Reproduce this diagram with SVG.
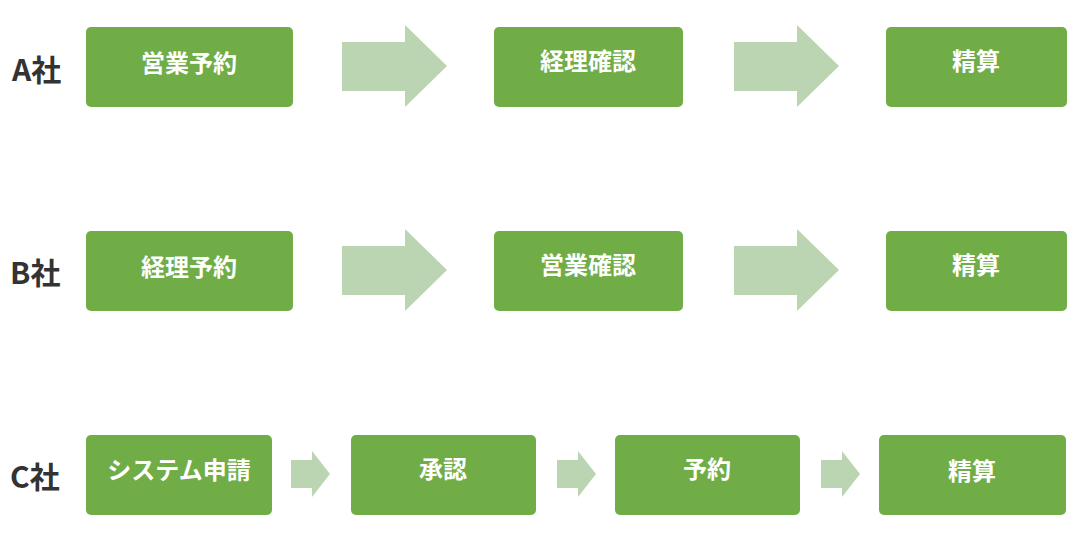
<svg xmlns="http://www.w3.org/2000/svg" width="1082" height="542" viewBox="0 0 1082 542">
<style>
.b{fill:#70AD47}
.t{fill:#fff;font-family:"Noto Sans CJK JP","Noto Sans",sans-serif;font-size:24px;font-weight:bold;text-anchor:middle}
.l{fill:#333;font-family:"Noto Sans CJK JP","Noto Sans",sans-serif;font-size:30px;font-weight:bold}
.a{fill:#BBD5B3}
</style>
<rect width="1082" height="542" fill="#fff"/>
<g id="labels">
<text class="l" x="12" y="81">A社</text>
<text class="l" x="10" y="284">B社</text>
<text class="l" x="10" y="488">C社</text>
</g>
<g id="connectors">
<polygon class="a" points="342,42 405,42 405,25 447,66 405,107 405,91 342,91"/>
<polygon class="a" points="734,42 797,42 797,25 839,66 797,107 797,91 734,91"/>
<polygon class="a" points="342,246 405,246 405,229 447,270 405,311 405,295 342,295"/>
<polygon class="a" points="734,246 797,246 797,229 839,270 797,311 797,295 734,295"/>
<polygon class="a" points="291,460 312,460 312,451 330,474 312,497 312,488 291,488"/>
<polygon class="a" points="557,460 578,460 578,451 596,474 578,497 578,488 557,488"/>
<polygon class="a" points="821,460 842,460 842,451 860,474 842,497 842,488 821,488"/>
</g>
<g id="a1"><rect class="b" x="86" y="27" width="207" height="80" rx="5"/><text class="t" x="189" y="72">営業予約</text></g>
<g id="a2"><rect class="b" x="494" y="27" width="189" height="80" rx="5"/><text class="t" x="588" y="70">経理確認</text></g>
<g id="a3"><rect class="b" x="886" y="27" width="181" height="80" rx="5"/><text class="t" x="976" y="70">精算</text></g>
<g id="b1"><rect class="b" x="86" y="231" width="207" height="80" rx="5"/><text class="t" x="189" y="276">経理予約</text></g>
<g id="b2"><rect class="b" x="494" y="231" width="189" height="80" rx="5"/><text class="t" x="588" y="274">営業確認</text></g>
<g id="b3"><rect class="b" x="886" y="231" width="181" height="80" rx="5"/><text class="t" x="976" y="274">精算</text></g>
<g id="c1"><rect class="b" x="86" y="435" width="186" height="80" rx="5"/><text class="t" x="179" y="479">システム申請</text></g>
<g id="c2"><rect class="b" x="351" y="435" width="185" height="80" rx="5"/><text class="t" x="443" y="478">承認</text></g>
<g id="c3"><rect class="b" x="615" y="435" width="185" height="80" rx="5"/><text class="t" x="707" y="478">予約</text></g>
<g id="c4"><rect class="b" x="879" y="435" width="187" height="80" rx="5"/><text class="t" x="972" y="480">精算</text></g>
</svg>
